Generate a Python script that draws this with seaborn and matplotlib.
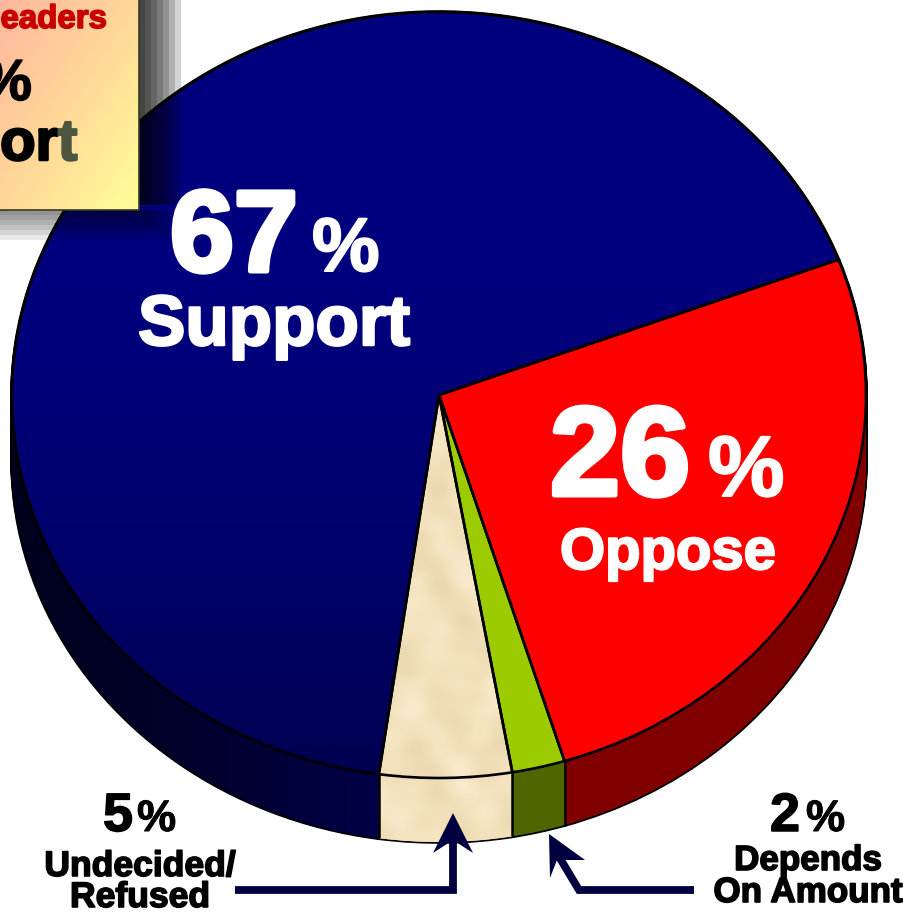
import numpy as np
import matplotlib
matplotlib.use("Agg")
import matplotlib.pyplot as plt
from matplotlib.patches import Rectangle, Polygon
from matplotlib.path import Path
from matplotlib.transforms import Affine2D
import matplotlib.patheffects as pe
import seaborn as sns

sns.set_theme(style="white")
plt.rcParams["font.family"] = ["Liberation Sans", "DejaVu Sans"]

# Survey shares, going counter-clockwise from the blue/red boundary
categories = ["Support", "Undecided/Refused", "Depends On Amount", "Oppose"]
shares = [67, 5, 2, 26]
top_colors = ["#000080", "#f0deb6", "#9ccc00", "#ff0000"]
side_colors = ["#00002e", "#f0deb8", "#4f6500", "#800000"]

W, H = 909, 915
CX, CY, RX, RY = 439, 395, 427, 383
DEPTH = 64
START = 20.7

fig = plt.figure(figsize=(W / 100, H / 100), dpi=100)
ax = fig.add_axes([0, 0, 1, 1])
px = Affine2D().scale(1, -1).translate(0, H)   # top-left pixel coordinates


def draw_pie(drop, colors, **props):
    wedges, _ = ax.pie(shares, colors=colors, startangle=START, counterclock=True,
                       radius=1, center=(0, -drop / RY), wedgeprops=props)
    return wedges


def rim_path(a0, a1):
    """Outline of the visible rim between two angles in degrees."""
    t = np.radians(np.linspace(a0, a1, 120))
    upper = np.column_stack([np.cos(t), np.sin(t)])
    lower = np.column_stack([np.cos(t[::-1]), np.sin(t[::-1]) - DEPTH / RY])
    return Path(np.vstack([upper, lower, upper[:1]]), closed=True)


# Black silhouette of the extruded disc, then the coloured rim above it
for d in range(DEPTH, -1, -2):
    draw_pie(d, ["black"] * 4, edgecolor="black", linewidth=2.6, zorder=1)
for d in range(DEPTH, 0, -1):
    draw_pie(d, side_colors, edgecolor="none", linewidth=0, zorder=2)

edges = START + np.cumsum(shares) / sum(shares) * 360
extent = (-1.02, 1.02, -1.25, 1.02)

# Navy rim is lit more strongly near the front slices
rim_navy = sns.blend_palette(["#00001c", "#00002c", "#000048"], as_cmap=True)
rim_im = ax.imshow(np.linspace(0, 1, 256)[None, :], cmap=rim_navy, extent=(-1.02, -0.12, -1.25, 1.02),
                   aspect="auto", zorder=2.2)
rim_im.set_clip_path(rim_path(180, edges[0]), ax.transData)

# Parchment mottling shared by the undecided slice and its rim
gx, gy = np.meshgrid(np.linspace(0, 1, 300), np.linspace(0, 1, 300))
mottle = (np.sin(gx * 71 + 2 * np.sin(gy * 23)) + 1.3 * np.sin(gy * 53 + 3 * np.sin(gx * 31))
          + 0.6 * np.sin((gx + 0.4 * gy) * 137) + 0.6 * np.sin((gx - 0.7 * gy) * 113)
          + 0.4 * np.sin(gy * 211 + np.sin(gx * 67)))
parchment = sns.blend_palette(["#ead7ae", "#f2e1bb", "#f8ebcd"], as_cmap=True)
rim_beige = ax.imshow(mottle, cmap=parchment, extent=extent, aspect="auto", zorder=2.2,
                      interpolation="bicubic")
rim_beige.set_clip_path(rim_path(edges[0], edges[1]), ax.transData)

# Vertical seams on the rim at the slice boundaries that face the viewer
for angle in edges[:3]:
    x = np.cos(np.radians(angle))
    y = np.sin(np.radians(angle))
    ax.plot([x, x], [y, y - DEPTH / RY], color="black", lw=1.8, zorder=2.5,
            solid_capstyle="butt")

top = draw_pie(0, top_colors, edgecolor="none", linewidth=0, zorder=3)

# Navy face darkens slowly toward the front
navy = sns.blend_palette(["#00007e", "#000080", "#00006e", "#000050"], as_cmap=True)
ramp = np.linspace(0, 1, 256)[:, None]
im = ax.imshow(ramp, cmap=navy, extent=(-1.02, 1.02, -1.02, 1.02), origin="upper",
               aspect="auto", zorder=3.2)
im.set_clip_path(top[0])

im2 = ax.imshow(mottle, cmap=parchment, extent=extent, aspect="auto", zorder=3.2,
                interpolation="bicubic")
im2.set_clip_path(top[1])

# Outlines of the top face
draw_pie(0, ["none"] * 4, edgecolor="black", linewidth=1.9, zorder=3.5)


def label(x, y, s, size, color="black", stroke=0.0, ha="left", z=8):
    """Heavy text placed in pixels; size and stroke are pixel widths too."""
    t = ax.text(x, y, s, transform=px, fontsize=size * 0.72, color=color, ha=ha,
                va="baseline", fontweight="bold", zorder=z)
    if stroke:
        t.set_path_effects([pe.withStroke(linewidth=stroke * 0.72, foreground=color)])
    return t


# Inset call-out against the canvas corner, with a stepped shadow
for i in range(7):
    ax.add_patch(Rectangle((0, 0), 139 + (7 - i) * 6, 205, transform=px,
                           fc="black", alpha=0.17, ec="none", zorder=5))
for i in range(6):
    ax.add_patch(Rectangle((0, 210), 139 + (6 - i) * 6, (6 - i) * 5, transform=px,
                           fc="black", alpha=0.085, ec="none", zorder=5))

peach = sns.blend_palette(["#ffb7a0", "#ffd898", "#ffff99"], as_cmap=True)
bx, by = np.meshgrid(np.linspace(0, 1, 140), np.linspace(0, 1, 210))
ax.imshow((bx + by) / 2, cmap=peach, extent=(0, 139, 210, 0), transform=px,
          aspect="auto", zorder=6)
ax.add_patch(Rectangle((-5, -5), 144, 215, transform=px, fc="none", ec="#3a3a20",
                       lw=1.2, zorder=6.5))

ax.set_aspect("auto")
ax.set_xlim(-CX / RX, (W - CX) / RX)
ax.set_ylim((CY - H) / RY, CY / RY)
ax.axis("off")

label(107, 28, "eaders", 33, "#c80000", 1.6, ha="right")
label(32, 100, "%", 58, "black", 1.5, ha="right")
label(58, 160, "or", 58, "black", 2.5, ha="right")
label(58, 160, "t", 58, "#4b5540", 2.5)

# Slice captions
label(170, 271, "67", 115, "white", 5)
label(312, 271, "%", 76, "white", 2)
label(138, 345, "Support", 71, "white", 2.5)

label(550, 495, "26", 126, "white", 5)
label(708, 496, "%", 86, "white", 2)
label(560, 569, "Oppose", 58, "white", 2.2)

label(103, 831, "5", 54, "black", 1.5)
label(137, 831, "%", 44, "black", 1)
label(140, 876, "Undecided/", 35.5, "black", 1.6, ha="center")
label(140, 907, "Refused", 35.5, "black", 1.6, ha="center")

label(770, 831, "2", 54, "black", 1.5)
label(806, 831, "%", 44, "black", 1)
label(808, 870, "Depends", 35, "black", 1.6, ha="center")
label(808, 902, "On Amount", 35, "black", 1.6, ha="center")

# Pointers from the small captions to their slices
ARROW = "#000040"
ax.plot([235, 453, 453], [890, 890, 835], transform=px, color=ARROW, lw=5.6, zorder=7,
        solid_joinstyle="miter", solid_capstyle="butt")
ax.add_patch(Polygon([(453, 813), (473, 853), (453, 840), (433, 853)], closed=True,
                     transform=px, fc=ARROW, ec="none", zorder=7))
ax.plot([694, 579, 558], [890, 890, 855], transform=px, color=ARROW, lw=5.6, zorder=7,
        solid_joinstyle="miter", solid_capstyle="butt")
ax.add_patch(Polygon([(549, 834), (585, 860), (557, 860), (550, 878)], closed=True,
                     transform=px, fc=ARROW, ec="none", zorder=7))

fig.savefig("out.png", dpi=100, facecolor="white")
